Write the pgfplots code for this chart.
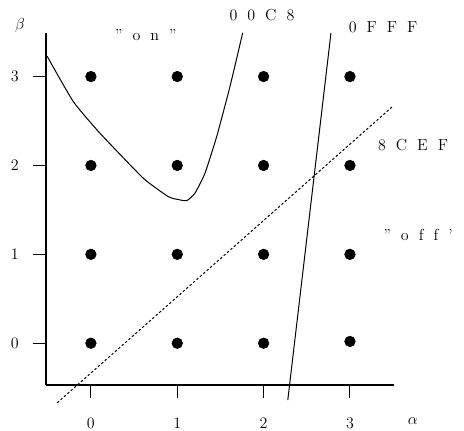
\documentclass[border=0pt]{standalone}
\usepackage{pgfplots}
\pgfplotsset{compat=1.18}
\newcommand{\gp}{\hspace{7.5pt}}
\begin{document}
\begin{tikzpicture}
\useasboundingbox (-34.5pt,-33.75pt) rectangle (313.5pt,288.75pt);
\begin{axis}[
  scale only axis,
  width=261pt, height=264pt,
  at={(0,0)}, anchor=south west,
  xmin=-0.52, xmax=3.51, ymin=-0.47, ymax=3.49,
  axis x line*=bottom, axis y line*=left,
  axis line style={line width=1pt},
  xtick={0,1,2,3}, ytick={0,1,2,3},
  tick align=outside, major tick length=10pt,
  tick style={line width=0.8pt, black},
  tick label style={font=\fontsize{12}{14}\selectfont},
  xticklabel style={yshift=-11pt},
  yticklabel style={xshift=-7pt},
  clip=false,
]
\addplot[black, line width=0.75pt, smooth, tension=0.3] coordinates {
  (-0.506,3.228) (-0.205,2.720) (0.104,2.364) (0.606,1.857) (0.896,1.649)
  (0.993,1.620) (1.109,1.604) (1.205,1.688) (1.321,1.913) (1.457,2.326)
  (1.611,2.890) (1.758,3.492)
};
\addplot[black, line width=0.75pt] coordinates {(2.78,3.49) (2.28,-0.64)};
\addplot[black, line width=0.75pt, dash pattern=on 1.8pt off 1.6pt] coordinates {(-0.39,-0.67) (3.49,2.66)};
\addplot[only marks, mark=*, mark size=4pt, black] coordinates {
  (0,0) (1,0) (2,0) (3,0.02)
  (0,1) (1,1) (2,1) (3,1)
  (0,2) (1,2) (2,2) (3,2)
  (0,3) (1,3) (2,3) (3,3)
};
\begin{scope}[every node/.style={font=\fontsize{12}{14}\selectfont, inner sep=0pt}]
\node at (axis cs:0.637,3.472) {\textquotedblright\gp o\gp n\gp\textquotedblright};
\node at (axis cs:1.981,3.687) {0\gp 0\gp C\gp 8};
\node at (axis cs:3.384,3.551) {0\gp F\gp F\gp F};
\node at (axis cs:3.731,2.232) {8\gp C\gp E\gp F};
\node at (axis cs:3.789,1.218) {\textquotedblright\gp o\gp f\gp f\gp\textquoteright};
\node at (axis cs:-0.82,3.574) {$\beta$};
\node at (axis cs:3.73,-0.88) {$\alpha$};
\end{scope}
\end{axis}
\end{tikzpicture}
\end{document}
